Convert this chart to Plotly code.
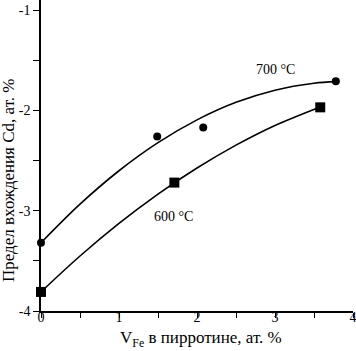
import plotly.graph_objects as go

# Data
pts700_x = [0.0, 1.49, 2.08, 3.78]
pts700_y = [-3.32, -2.26, -2.17, -1.71]
pts600_x = [0.0, 1.71, 3.58]
pts600_y = [-3.81, -2.72, -1.97]

curve700_x = [0.0, 0.5, 1.0, 1.5, 2.0, 2.5, 3.0, 3.5, 3.78]
curve700_y = [-3.32, -2.935, -2.602, -2.322, -2.095, -1.920, -1.799, -1.730, -1.714]
curve600_x = [0.0, 0.5, 1.0, 1.5, 2.0, 2.5, 3.0, 3.58]
curve600_y = [-3.81, -3.452, -3.127, -2.835, -2.575, -2.347, -2.151, -1.966]

x_ticks = [0, 1, 2, 3, 4]
x_ticklabels = ["0", "1", "2", "3", "4"]
x_minor = [0.5, 1.5, 2.5, 3.5]
y_ticks = [-4, -3, -2, -1]
y_ticklabels = ["-4", "-3", "-2", "-1"]
y_minor = [-3.5, -2.5, -1.5]

FONT = "Liberation Serif"

fig = go.Figure()
fig.add_trace(go.Scatter(x=curve700_x, y=curve700_y, mode="lines",
                         line=dict(color="black", width=1.6, shape="spline"),
                         cliponaxis=False, showlegend=False, hoverinfo="skip"))
fig.add_trace(go.Scatter(x=curve600_x, y=curve600_y, mode="lines",
                         line=dict(color="black", width=1.6, shape="spline"),
                         cliponaxis=False, showlegend=False, hoverinfo="skip"))
fig.add_trace(go.Scatter(x=pts700_x, y=pts700_y, mode="markers",
                         marker=dict(symbol="circle", size=8, color="black"),
                         cliponaxis=False, showlegend=False))
fig.add_trace(go.Scatter(x=pts600_x, y=pts600_y, mode="markers",
                         marker=dict(symbol="square", size=10, color="black"),
                         cliponaxis=False, showlegend=False))

fig.update_layout(
    width=356, height=351,
    margin=dict(l=41, r=3, t=0, b=40),
    plot_bgcolor="white", paper_bgcolor="white",
    font=dict(family=FONT, size=14, color="black"),
    xaxis=dict(range=[0, 4], tickvals=x_ticks, ticktext=x_ticklabels,
               ticks="outside", ticklen=5, tickwidth=1.2, tickcolor="black",
               minor=dict(tickmode="array", tickvals=x_minor, ticks="outside",
                          ticklen=5, tickwidth=1.2, tickcolor="black", showgrid=False),
               showline=True, linecolor="black", linewidth=1.5,
               showgrid=False, zeroline=False, tickfont=dict(size=14),
               ticklabeloverflow="allow", ticklabelstandoff=-13),
    yaxis=dict(range=[-4, -0.9], tickvals=y_ticks, ticktext=y_ticklabels,
               ticks="outside", ticklen=6, tickwidth=1.2, tickcolor="black",
               minor=dict(tickmode="array", tickvals=y_minor, ticks="outside",
                          ticklen=6, tickwidth=1.2, tickcolor="black", showgrid=False),
               showline=True, linecolor="black", linewidth=1.5,
               showgrid=False, zeroline=False, tickfont=dict(size=14)),
    annotations=[
        dict(x=3.0, y=-1.597, xref="x", yref="y", text="700 °C", showarrow=False,
             font=dict(size=14), xanchor="center", yanchor="middle"),
        dict(x=1.705, y=-3.058, xref="x", yref="y", text="600 °C", showarrow=False,
             font=dict(size=14), xanchor="center", yanchor="middle"),
        dict(x=-0.106, y=0.421, xref="paper", yref="paper",
             text="Предел вхождения Cd, ат. %", textangle=-90, showarrow=False,
             font=dict(size=17), xanchor="center", yanchor="middle"),
        dict(x=0.514, y=-0.091, xref="paper", yref="paper",
             text="V<sub>Fe</sub> в пирротине, ат. %", showarrow=False,
             font=dict(size=17), xanchor="center", yanchor="middle"),
    ],
)

fig.write_html("out.html")
